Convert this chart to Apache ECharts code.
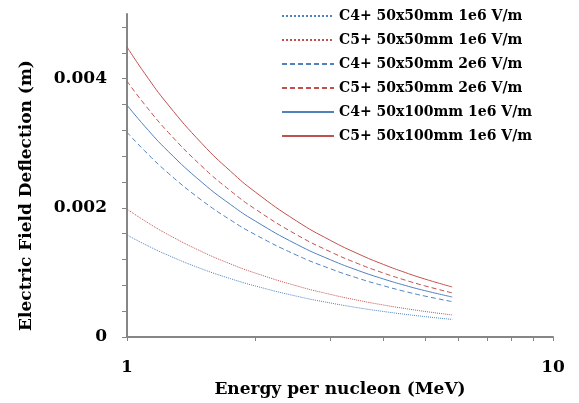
<!DOCTYPE html>
<html>
<head>
<meta charset="utf-8">
<script src="https://cdn.jsdelivr.net/npm/echarts@6/dist/echarts.min.js"></script>
<style>
  html, body { margin: 0; padding: 0; background: #fff; }
  #chart { width: 579px; height: 403px; }
</style>
</head>
<body>
<div id="chart"></div>
<script>
// energy per nucleon (MeV)
var energy = [1, 1.1, 1.25, 1.5, 1.75, 2, 2.5, 3, 3.5, 4, 4.5, 5, 5.8];

// deflection (m)
var c4_50_1e6  = [0.00158, 0.001436, 0.001264, 0.001053, 0.000903, 0.00079, 0.000632, 0.000527, 0.000451, 0.000395, 0.000351, 0.000316, 0.000272];
var c5_50_1e6  = [0.00198, 0.0018, 0.001584, 0.00132, 0.001131, 0.00099, 0.000792, 0.00066, 0.000566, 0.000495, 0.00044, 0.000396, 0.000341];
var c4_50_2e6  = [0.00317, 0.002882, 0.002536, 0.002113, 0.001811, 0.001585, 0.001268, 0.001057, 0.000906, 0.000793, 0.000704, 0.000634, 0.000547];
var c5_50_2e6  = [0.00396, 0.0036, 0.003168, 0.00264, 0.002263, 0.00198, 0.001584, 0.00132, 0.001131, 0.00099, 0.00088, 0.000792, 0.000683];
var c4_100_1e6 = [0.00359, 0.003264, 0.002872, 0.002393, 0.002051, 0.001795, 0.001436, 0.001197, 0.001026, 0.000898, 0.000798, 0.000718, 0.000619];
var c5_100_1e6 = [0.00449, 0.004082, 0.003592, 0.002993, 0.002566, 0.002245, 0.001796, 0.001497, 0.001283, 0.001123, 0.000998, 0.000898, 0.000774];

var seriesNames = [
  "C4+ 50x50mm 1e6 V/m",
  "C5+ 50x50mm 1e6 V/m",
  "C4+ 50x50mm 2e6 V/m",
  "C5+ 50x50mm 2e6 V/m",
  "C4+ 50x100mm 1e6 V/m",
  "C5+ 50x100mm 1e6 V/m"
];

// tick labels
var xLabels = [1, 10];
var xTicks = [1, 2, 3, 4, 5, 6, 7, 8, 9, 10];
var yLabels = [0, 0.002, 0.004];
var yTicks = [0, 0.0004, 0.0008, 0.0012, 0.0016, 0.002, 0.0024, 0.0028, 0.0032, 0.0036, 0.004, 0.0044, 0.0048];

var blue = "#4F81BD";
var red = "#C0504D";
var fontFam = "DejaVu Serif";

function pairs(ys) {
  return energy.map(function (e, i) { return [e, ys[i]]; });
}

function makeSeries(name, ys, color, type) {
  return {
    name: name,
    type: "line",
    data: pairs(ys),
    smooth: true,
    symbol: "none",
    lineStyle: { color: color, width: 1, type: type },
    itemStyle: { color: color }
  };
}

var chart = echarts.init(document.getElementById("chart"));
chart.setOption({
  animation: false,
  grid: { left: 127, right: 26, top: 14, bottom: 59 },
  legend: {
    orient: "vertical",
    left: 276,
    top: 4,
    itemWidth: 52,
    itemHeight: 14,
    itemGap: 10,
    itemStyle: { color: "rgba(0,0,0,0)", borderWidth: 0 },
    textStyle: { fontFamily: fontFam, fontWeight: "bold", fontSize: 14, color: "#000" },
    data: seriesNames
  },
  xAxis: {
    type: "log",
    min: 1,
    max: 10,
    logBase: 10,
    name: "Energy per nucleon (MeV)",
    nameLocation: "middle",
    nameGap: 44,
    nameTextStyle: { fontFamily: fontFam, fontWeight: "bold", fontSize: 17, color: "#000" },
    axisLine: { lineStyle: { color: "#868686", width: 2 } },
    axisTick: { show: true, length: 4, customValues: xTicks, lineStyle: { color: "#868686", width: 1 } },
    axisLabel: { customValues: xLabels, margin: 22, fontFamily: fontFam, fontWeight: "bold", fontSize: 17, color: "#000" },
    splitLine: { show: false },
    minorTick: { show: false }
  },
  yAxis: {
    type: "value",
    min: 0,
    max: 0.005,
    name: "Electric Field Deflection (m)",
    nameLocation: "middle",
    nameGap: 92,
    nameTextStyle: { fontFamily: fontFam, fontWeight: "bold", fontSize: 17, color: "#000", padding: [0, 40, 0, 0] },
    axisLine: { show: true, lineStyle: { color: "#868686", width: 2 } },
    axisTick: { show: true, length: 5, customValues: yTicks, lineStyle: { color: "#868686", width: 1 } },
    axisLabel: { customValues: yLabels, margin: 20, fontFamily: fontFam, fontWeight: "bold", fontSize: 17, color: "#000" },
    splitLine: { show: false }
  },
  series: [
    makeSeries(seriesNames[0], c4_50_1e6, blue, "dotted"),
    makeSeries(seriesNames[1], c5_50_1e6, red, "dotted"),
    makeSeries(seriesNames[2], c4_50_2e6, blue, [5, 3]),
    makeSeries(seriesNames[3], c5_50_2e6, red, [5, 3]),
    makeSeries(seriesNames[4], c4_100_1e6, blue, "solid"),
    makeSeries(seriesNames[5], c5_100_1e6, red, "solid")
  ]
});
</script>
</body>
</html>
